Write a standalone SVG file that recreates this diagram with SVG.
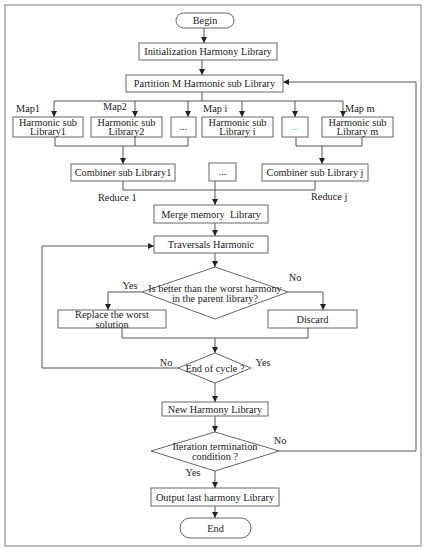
<svg xmlns="http://www.w3.org/2000/svg" width="427" height="550" viewBox="0 0 427 550">
<defs>
<marker id="ah" viewBox="0 0 8 8" refX="8" refY="4" markerWidth="6" markerHeight="6" markerUnits="userSpaceOnUse" orient="auto">
<path d="M0,0 L8,4 L0,8 Z" fill="#222"/>
</marker>
</defs>
<style>
.b{fill:#fff;stroke:#666;stroke-width:1}
.t{font-family:"Liberation Serif","Times New Roman",serif;font-size:10.3px;fill:#222;text-anchor:middle}
.l{font-family:"Liberation Serif","Times New Roman",serif;font-size:10.3px;fill:#222}
.c{fill:none;stroke:#555;stroke-width:1}
.a{fill:none;stroke:#555;stroke-width:1;marker-end:url(#ah)}
</style>
<rect x="5" y="5" width="416" height="541" fill="#fff" stroke="#a8a8a8" stroke-width="1.5"/>
<g id="connectors">
<path class="a" d="M204,28 V43"/>
<path class="a" d="M202,60 V75"/>
<path class="c" d="M202,92 V101 M54,101 H343"/>
<path class="a" d="M54,101 V117"/>
<path class="a" d="M135,101 V117"/>
<path class="a" d="M188,101 V117"/>
<path class="a" d="M242,101 V117"/>
<path class="a" d="M295,101 V117"/>
<path class="a" d="M343,101 V117"/>
<path class="c" d="M55,137 V146 H188 V137 M135,137 V146"/>
<path class="a" d="M123,146 V164"/>
<path class="c" d="M296,137 V146 H362 V137"/>
<path class="a" d="M322,146 V164"/>
<path class="c" d="M123,181 V190 H315 V181"/>
<path class="a" d="M215,181 V205"/>
<path class="a" d="M215,223 V236"/>
<path class="a" d="M215,253 V267"/>
<path class="a" d="M142,292 H108 V310"/>
<path class="a" d="M288,292 H323 V310"/>
<path class="c" d="M122,328 V338 H308 V328"/>
<path class="a" d="M215,338 V353"/>
<path class="a" d="M178,368 H42 V246 H154"/>
<path class="a" d="M215,383 V402"/>
<path class="a" d="M215,416 V432"/>
<path class="a" d="M279,451 H416 V82 H283"/>
<path class="a" d="M215,471 V488"/>
<path class="a" d="M215,506 V518"/>
</g>
<g id="begin"><rect class="b" x="176" y="13" width="58" height="15" rx="7.5"/><text class="t" x="205" y="24">Begin</text></g>
<g id="init"><rect class="b" x="139" y="43" width="138" height="17"/><text class="t" x="208" y="55">Initialization Harmony Library</text></g>
<g id="partition"><rect class="b" x="126" y="75" width="157" height="17"/><text class="t" x="204.5" y="87">Partition M Harmonic sub Library</text></g>
<g id="labels-map">
<text class="l" x="16" y="112">Map1</text>
<text class="l" x="103" y="110">Map2</text>
<text class="l" x="203" y="112">Map i</text>
<text class="l" x="345" y="112">Map m</text>
</g>
<g id="sub1"><rect class="b" x="13" y="117" width="70" height="20"/><text class="t" x="48" y="125.5">Harmonic sub</text><text class="t" x="48" y="135">Library1</text></g>
<g id="sub2"><rect class="b" x="91" y="117" width="71" height="20"/><text class="t" x="126.5" y="125.5">Harmonic sub</text><text class="t" x="126.5" y="135">Library2</text></g>
<g id="dots1"><rect class="b" x="171" y="117" width="25" height="20"/><text class="t" x="183.5" y="130">...</text></g>
<g id="subi"><rect class="b" x="202" y="117" width="71" height="20"/><text class="t" x="237.5" y="125.5">Harmonic sub</text><text class="t" x="237.5" y="135">Library i</text></g>
<g id="dots2"><rect class="b" x="282" y="117" width="26" height="20"/><text class="t" x="295" y="130" style="fill:#33c8e8">...</text></g>
<g id="subm"><rect class="b" x="322" y="117" width="71" height="20"/><text class="t" x="357.5" y="125.5">Harmonic sub</text><text class="t" x="357.5" y="135">Library m</text></g>
<g id="comb1"><rect class="b" x="71" y="164" width="104" height="17"/><text class="t" x="123" y="176">Combiner sub Library1</text></g>
<g id="dots3"><rect class="b" x="209" y="163" width="27" height="18"/><text class="t" x="222.5" y="175">...</text></g>
<g id="combj"><rect class="b" x="262" y="164" width="106" height="17"/><text class="t" x="315" y="176">Combiner sub Library j</text></g>
<g id="labels-reduce">
<text class="l" x="98" y="201">Reduce 1</text>
<text class="l" x="311" y="200">Reduce j</text>
</g>
<g id="merge"><rect class="b" x="154" y="205" width="114" height="18"/><text class="t" x="211" y="217.5" xml:space="preserve">Merge memory  Library</text></g>
<g id="traversal"><rect class="b" x="154" y="236" width="114" height="17"/><text class="t" x="211" y="248">Traversals Harmonic</text></g>
<g id="decision1"><polygon class="b" points="215,267 288,292 215,319 142,292"/><text class="t" x="215" y="292">Is better than the worst harmony</text><text class="t" x="215" y="301.5">in the parent library?</text></g>
<g id="labels-d1"><text class="t" x="130" y="289">Yes</text><text class="t" x="295" y="281">No</text></g>
<g id="replace"><rect class="b" x="58" y="310" width="108" height="18"/><text class="t" x="112" y="318">Replace the worst</text><text class="t" x="112" y="327.5">solution</text></g>
<g id="discard"><rect class="b" x="268" y="310" width="89" height="18"/><text class="t" x="312.5" y="322.5">Discard</text></g>
<g id="decision2"><polygon class="b" points="215,353 251,368 215,383 178,368"/><text class="t" x="215" y="371.5">End of cycle ?</text></g>
<g id="labels-d2"><text class="t" x="166" y="366">No</text><text class="t" x="263" y="366">Yes</text></g>
<g id="newlib"><rect class="b" x="162" y="402" width="106" height="14"/><text class="t" x="215" y="412.5">New Harmony Library</text></g>
<g id="decision3"><polygon class="b" points="215,432 279,451 215,471 151,451"/><text class="t" x="215" y="450">Iteration termination</text><text class="t" x="215" y="460">condition ?</text></g>
<g id="labels-d3"><text class="t" x="280" y="444">No</text><text class="t" x="193" y="476">Yes</text></g>
<g id="output"><rect class="b" x="151" y="488" width="128" height="18"/><text class="t" x="215" y="500.5">Output last harmony Library</text></g>
<g id="end"><rect class="b" x="180" y="518" width="71" height="20" rx="10"/><text class="t" x="215.5" y="531.5">End</text></g>
</svg>
